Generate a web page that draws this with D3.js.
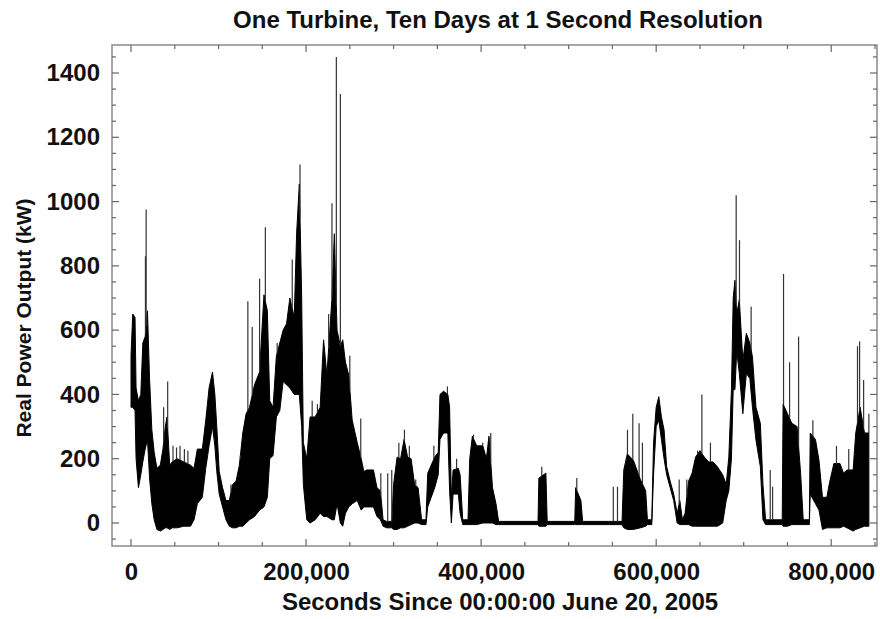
<!DOCTYPE html>
<html>
<head>
<meta charset="utf-8">
<script src="https://cdn.jsdelivr.net/npm/d3@7"></script>
<style>
  body { margin: 0; background: #fff; }
  text { font-family: "Liberation Sans", Arial, sans-serif; font-weight: bold; fill: #111; }
</style>
</head>
<body>
<div id="chart"></div>
<script>
// tick labels
const yTicks = [0, 200, 400, 600, 800, 1000, 1200, 1400];
const xTicks = [0, 200000, 400000, 600000, 800000];

// band of the 1 s power trace (seconds, low kW, high kW)
const sec = [0, 2000, 4600, 5800, 8500, 11200, 13500, 16200, 18800, 21200, 23800, 26500, 29600, 33500, 36500, 39200, 41200, 44200, 47000, 52700,
  60400, 68000, 72000, 75800, 81500, 85400, 89200, 93100, 95800, 98000, 100800, 104600, 108500, 112300, 116100, 120000, 123800, 127700, 131500, 135400,
  141100, 146900, 151900, 155800, 158500, 162300, 166100, 170000, 173800, 177700, 181500, 186500, 189200, 192300, 195000, 196900, 200800, 204600, 210400, 216100,
  220000, 223800, 229600, 232300, 235400, 239200, 241900, 245000, 248800, 252700, 258500, 263000, 266100, 269000, 277000, 281000, 285000, 288000, 292000, 298000,
  300000, 304000, 308000, 312000, 316000, 320000, 324000, 328000, 332000, 337000, 339000, 343000, 347000, 351000, 353000, 357000, 362000, 364000, 366000, 368000,
  374000, 376000, 379000, 385000, 387000, 390000, 395000, 402000, 406000, 409000, 413000, 417000, 420000, 465000, 466000, 474000, 475500, 507000, 508000, 514000,
  516000, 561000, 563000, 567000, 574000, 582000, 588000, 590000, 595000, 597000, 600000, 603000, 606000, 609000, 612000, 616000, 620000, 624000, 627000, 630000,
  633000, 637000, 641000, 645000, 650000, 655000, 660000, 665000, 670000, 676000, 680000, 683000, 686000, 688000, 690000, 692000, 695000, 699000, 703000, 707000,
  710000, 714000, 719000, 722000, 725000, 744000, 745000, 750000, 755000, 761000, 765000, 768000, 775000, 776000, 782000, 786000, 790000, 795000, 798000, 803000,
  810000, 814000, 818000, 825000, 828000, 833000, 838000, 843000];
const lo = [360, 360, 350, 200, 110, 150, 190, 230, 260, 140, 60, 10, -20, -25, -20, -15, -15, -20, -15, -15,
  -10, -10, 10, 60, 80, 170, 240, 300, 240, 160, 90, 50, 10, -10, -15, -15, -10, -10, 0, 10,
  20, 40, 50, 80, 200, 210, 330, 350, 440, 430, 420, 400, 400, 400, 300, 120, 10, 0, 10, 30,
  20, 20, 10, 10, 60, 0, -10, 30, 50, 60, 70, 40, 50, 50, 50, 20, 10, -10, -15, -15,
  -20, -20, -15, -15, -10, -5, 0, 0, -5, -5, 50, 80, 110, 150, 260, 280, 280, 100, 0, 90,
  90, 30, -5, -5, -5, -5, -5, 0, 0, 0, 0, -5, -5, -5, -10, -10, -5, -5, -5, -5,
  -5, -5, -15, -20, -20, -15, -10, -5, -5, 150, 300, 320, 260, 200, 150, 110, 70, 0, -5, -5,
  -5, -5, -10, -10, -10, -10, -10, -10, -10, 0, 70, 100, 200, 415, 415, 535, 465, 340, 465, 450,
  360, 258, 175, 10, -5, -5, -10, -10, -5, -5, -5, -5, -5, 90, 60, 40, -20, -15, -15, -15,
  -15, -10, -15, -25, -20, -15, -10, -10];
const hi = [520, 650, 640, 420, 380, 400, 560, 580, 660, 450, 290, 220, 170, 180, 230, 300, 330, 180, 190, 200,
  190, 180, 170, 230, 230, 320, 420, 470, 400, 300, 160, 110, 70, 70, 120, 130, 180, 280, 340, 360,
  430, 470, 710, 660, 380, 360, 520, 560, 600, 620, 700, 640, 900, 1055, 700, 250, 200, 330, 330, 360,
  570, 460, 700, 900, 600, 550, 570, 500, 460, 320, 250, 200, 160, 165, 165, 110, 100, 10, 5, 5,
  120, 205, 200, 260, 205, 200, 120, 110, 10, 10, 155, 180, 205, 220, 400, 410, 400, 360, 80, 165,
  170, 150, 10, 10, 200, 270, 240, 240, 200, 270, 110, 60, 5, 5, 140, 155, 5, 5, 110, 70,
  5, 5, 165, 215, 195, 135, 100, 10, 10, 250, 360, 393, 330, 290, 175, 130, 90, 30, 70, 10,
  30, 130, 155, 205, 225, 205, 190, 190, 175, 150, 120, 205, 415, 700, 755, 650, 695, 505, 590, 560,
  517, 360, 310, 120, 10, 10, 370, 340, 310, 300, 155, 10, 10, 280, 260, 195, 80, 80, 125, 185,
  185, 155, 165, 165, 280, 360, 280, 280];

// isolated one-second spikes above the band
const spikeSec = [16500, 17300, 37300, 41900, 48000, 52000, 56000, 61000, 65000, 114200, 125000, 133500, 138500, 146900, 153500, 167000, 184200, 193100, 207000, 213000,
  225800, 229600, 234600, 239200, 250000, 262500, 285400, 293300, 297900, 306000, 312400, 318000, 325300, 346000, 361500, 372000, 391300, 401800, 411000, 469300,
  509300, 551000, 555800, 567200, 573300, 580500, 584300, 626300, 635000, 647300, 652200, 662000, 691400, 695200, 708500, 730300, 733000, 745500, 752400, 762700,
  779000, 806000, 820000, 830000, 832400, 837000, 843000];
const spikeKW = [830, 975, 360, 440, 240, 235, 240, 230, 225, 120, 200, 690, 610, 760, 920, 560, 820, 1115, 380, 370,
  650, 995, 1450, 1335, 520, 325, 155, 155, 165, 250, 290, 240, 135, 240, 425, 200, 275, 250, 280, 175,
  140, 113, 113, 290, 340, 310, 250, 135, 135, 225, 400, 250, 1020, 880, 673, 165, 113, 775, 500, 580,
  320, 240, 230, 550, 565, 445, 340];

const W = 880, H = 619;
const frame = {left: 112, right: 877, top: 45, bottom: 546};

const svg = d3.select("#chart").append("svg")
    .attr("width", W)
    .attr("height", H);

const x = d3.scaleLinear().domain([0, 850000]).range([131, 875]);
const y = d3.scaleLinear().domain([0, 1400]).range([523, 73]);

// power band
const band = sec.map((s, i) => ({s: s, lo: lo[i], hi: hi[i]}));
svg.append("path")
    .datum(band)
    .attr("fill", "#000")
    .attr("stroke", "#000")
    .attr("stroke-width", 1)
    .attr("stroke-linejoin", "round")
    .attr("d", d3.area().x(d => x(d.s)).y0(d => y(d.lo)).y1(d => y(d.hi)));

// spikes start at the top of the band
const hiAt = function (s) {
    const i = Math.max(1, Math.min(sec.length - 1, d3.bisectLeft(sec, s)));
    const t = (s - sec[i - 1]) / (sec[i] - sec[i - 1]);
    return hi[i - 1] + (hi[i] - hi[i - 1]) * Math.max(0, Math.min(1, t));
};
svg.append("g")
    .selectAll("line")
    .data(spikeSec.map((s, i) => ({s: s, v: spikeKW[i]})))
    .join("line")
    .attr("x1", d => x(d.s))
    .attr("x2", d => x(d.s))
    .attr("y1", d => y(hiAt(d.s)))
    .attr("y2", d => y(d.v))
    .attr("stroke", "#333")
    .attr("stroke-width", 1.2);

// frame
svg.append("rect")
    .attr("x", frame.left)
    .attr("y", frame.top)
    .attr("width", frame.right - frame.left)
    .attr("height", frame.bottom - frame.top)
    .attr("fill", "none")
    .attr("stroke", "#8a8a8a")
    .attr("stroke-width", 1.5);

// ticks on all four sides, pointing inwards
const xMinor = d3.range(0, 850001, 50000);
const yMinor = d3.range(-50, 1451, 50);
const tickColor = "#666";

svg.append("g").selectAll("line").data(xMinor).join("line")
    .attr("x1", d => x(d)).attr("x2", d => x(d))
    .attr("y1", frame.bottom).attr("y2", d => frame.bottom - (d % 200000 === 0 ? 7 : 4))
    .attr("stroke", tickColor).attr("stroke-width", 1.2);
svg.append("g").selectAll("line").data(xMinor).join("line")
    .attr("x1", d => x(d)).attr("x2", d => x(d))
    .attr("y1", frame.top).attr("y2", d => frame.top + (d % 200000 === 0 ? 7 : 4))
    .attr("stroke", tickColor).attr("stroke-width", 1.2);
svg.append("g").selectAll("line").data(yMinor).join("line")
    .attr("y1", d => y(d)).attr("y2", d => y(d))
    .attr("x1", frame.left).attr("x2", d => frame.left + (d % 200 === 0 ? 7 : 4))
    .attr("stroke", tickColor).attr("stroke-width", 1.2);
svg.append("g").selectAll("line").data(yMinor).join("line")
    .attr("y1", d => y(d)).attr("y2", d => y(d))
    .attr("x1", frame.right).attr("x2", d => frame.right - (d % 200 === 0 ? 7 : 4))
    .attr("stroke", tickColor).attr("stroke-width", 1.2);

// tick labels
const xAxis = svg.append("g")
    .attr("transform", `translate(0,${frame.bottom})`)
    .call(d3.axisBottom(x).tickValues(xTicks).tickSize(0).tickPadding(17)
        .tickFormat(d3.format(",")));
const yAxis = svg.append("g")
    .attr("transform", `translate(${frame.left},0)`)
    .call(d3.axisLeft(y).tickValues(yTicks).tickSize(0).tickPadding(12)
        .tickFormat(d3.format("d")));
[xAxis, yAxis].forEach(g => {
    g.select(".domain").remove();
    g.selectAll("text")
        .style("font-family", "'Liberation Sans', Arial, sans-serif")
        .style("font-weight", "bold")
        .style("font-size", "24px")
        .attr("fill", "#111");
});

// titles
svg.append("text")
    .attr("x", 498)
    .attr("y", 28)
    .attr("text-anchor", "middle")
    .style("font-size", "24px")
    .text("One Turbine, Ten Days at 1 Second Resolution");

svg.append("text")
    .attr("x", 500)
    .attr("y", 610)
    .attr("text-anchor", "middle")
    .style("font-size", "24px")
    .text("Seconds Since 00:00:00 June 20, 2005");

svg.append("text")
    .attr("transform", "rotate(-90)")
    .attr("x", -318)
    .attr("y", 31)
    .attr("text-anchor", "middle")
    .style("font-size", "21px")
    .text("Real Power Output (kW)");
</script>
</body>
</html>
